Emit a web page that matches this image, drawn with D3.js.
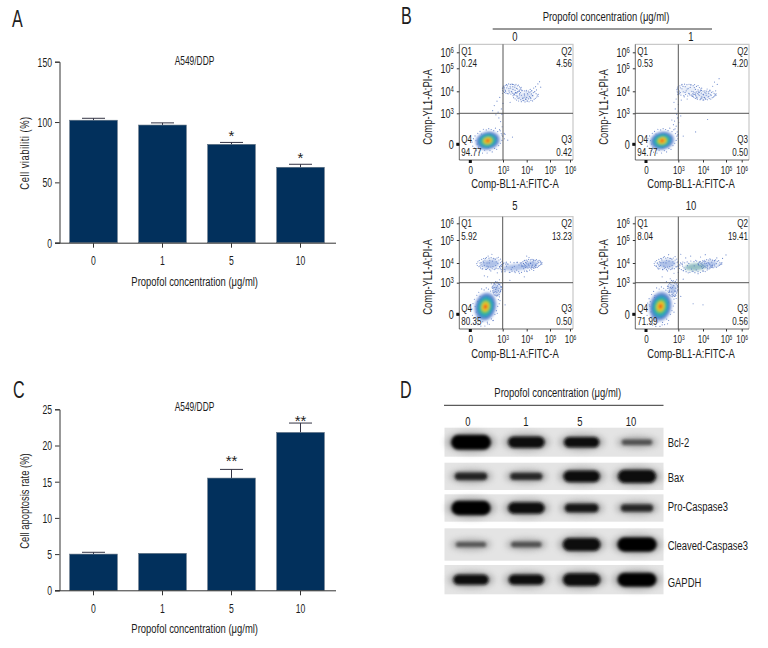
<!DOCTYPE html>
<html><head><meta charset="utf-8">
<script src="https://cdn.jsdelivr.net/npm/d3@7/dist/d3.min.js"></script>
<style>html,body{margin:0;padding:0;background:#fff}svg{display:block}text{font-family:"Liberation Sans",sans-serif;fill:#1c1c1c}</style>
</head><body><svg id="c" width="768" height="648"></svg>
<script>
const doses = ["0","1","5","10"];
const viability = [101.5, 97.5, 81.5, 62.5];
const viabilityErr = [1.6, 1.8, 1.6, 2.5];
const viabilityStars = ["", "", "*", "*"];
const apoptosis = [5.0, 5.1, 15.5, 21.8];
const apoptosisErr = [0.25, 0, 1.2, 1.3];
const apoptosisStars = ["", "", "**", "**"];
const ticksA = [0, 50, 100, 150];
const ticksC = [0, 5, 10, 15, 20, 25];
const q1 = ["0.24","0.53","5.92","8.04"];
const q2 = ["4.56","4.20","13.23","19.41"];
const q3 = ["0.42","0.50","0.50","0.56"];
const q4 = ["94.77","94.77","80.35","71.99"];
const flowDecades = [0,3,4,5,6];
// population centres on the decade axes: x, y, spreadX, spreadY, tilt
const core0 = [1.6,0.35,1.12,0.88,-12];
const core1 = [1.5,0.35,1.12,0.88,-12];
const core5 = [1.4,0.72,0.98,1.35,14];
const core10 = [1.35,0.75,1.02,1.4,12];
const cloud0 = [[3.95,3.78,.42,.2,1],[3.35,4.1,.32,.17,0]];
const cloud1 = [[4.05,3.82,.4,.16,1],[3.4,4.05,.42,.2,0]];
const cloud5 = [[1.85,3.95,1.0,.22,2],[3.55,3.78,.65,.2,2],[4.2,3.95,.35,.16,2],[2.45,2.4,.32,.5,2]];
const cloud10 = [[1.95,3.95,.95,.22,2],[3.7,3.8,.55,.22,3],[4.3,3.95,.4,.15,2],[2.5,2.4,.38,.55,2]];
const events0 = [[3.05,4.18],[3.1,4.02],[3.15,4.28],[3.2,3.9],[3.25,4.12],[3.3,4.22],[3.35,3.98],[3.4,4.3],[3.42,4.08],[3.48,3.84],[3.5,4.18],[3.55,3.95],[3.6,3.78],[3.62,4.1],[3.68,3.7],[3.7,3.9],[3.75,3.62],[3.78,3.82],[3.8,4.02],[3.85,3.7],[3.88,3.58],[3.9,3.88],[3.92,3.74],[3.95,3.64],[3.98,3.98],[4.0,3.72],[4.02,3.56],[4.05,3.84],[4.08,3.66],[4.1,3.94],[4.12,3.76],[4.15,4.08],[4.18,3.68],[4.2,3.88],[4.22,4.02],[4.26,3.8],[4.3,4.14],[4.34,3.98],[4.38,4.2],[4.42,4.06],[4.48,4.32],[4.55,4.42],[4.6,4.18],[2.05,3.12],[2.2,3.35],[2.35,2.85],[2.45,3.55],[2.55,3.05],[2.62,2.55],[2.7,3.72],[2.78,2.2],[2.85,3.2],[2.9,2.9],[2.92,1.7],[2.95,3.9],[3.05,1.05],[3.4,0.7],[3.2,0.4],[2.9,0.9],[2.75,1.3],[3.0,3.45],[3.3,3.5]];
const events1 = [[2.6,3.5],[2.72,3.2],[2.8,3.65],[2.85,2.9],[2.92,2.55],[2.95,3.85],[3.0,3.4],[3.02,2.1],[3.05,3.92],[3.08,4.15],[3.12,3.6],[3.15,4.3],[3.2,3.98],[3.24,3.75],[3.28,4.2],[3.32,4.02],[3.36,3.65],[3.4,4.12],[3.45,3.88],[3.5,4.28],[3.55,4.0],[3.6,3.78],[3.65,4.16],[3.7,3.92],[3.75,3.7],[3.8,4.06],[3.85,3.82],[3.9,3.66],[3.93,3.92],[3.96,3.74],[4.0,3.6],[4.02,3.84],[4.05,3.72],[4.08,3.96],[4.1,3.66],[4.14,3.82],[4.18,4.1],[4.22,3.74],[4.25,3.9],[4.3,4.05],[4.36,3.82],[4.42,4.22],[4.5,4.4],[4.55,4.02],[4.62,4.3],[4.7,4.55],[2.4,2.35],[2.55,1.9],[2.65,2.25],[2.7,1.5],[2.8,1.75],[2.9,1.2],[3.1,2.75],[3.0,3.1],[4.2,2.4],[3.7,1.2],[3.2,0.8],[2.95,0.9]];
const events5 = [[0.9,3.85],[1.0,4.02],[1.1,3.7],[1.2,4.08],[1.3,3.88],[1.4,4.2],[1.5,3.68],[1.55,4.0],[1.65,4.3],[1.7,3.8],[1.8,4.12],[1.9,3.6],[2.0,4.38],[2.1,3.82],[2.2,4.18],[2.3,3.7],[2.4,4.05],[2.5,3.5],[2.6,4.25],[2.7,3.82],[2.8,4.02],[2.9,3.55],[3.0,3.9],[3.1,3.65],[3.2,3.95],[3.3,3.52],[3.4,3.78],[3.5,3.58],[3.6,4.02],[3.7,3.48],[3.8,3.82],[3.9,4.12],[4.0,3.6],[4.1,4.24],[4.2,3.78],[4.3,4.12],[4.4,3.9],[4.5,4.02],[4.6,4.08],[1.6,3.3],[1.95,2.9],[1.3,3.35],[2.2,2.95],[2.7,3.15],[2.95,2.95],[3.3,3.12],[0.8,0.4],[1.0,1.4],[0.7,1.2],[2.1,-0.6],[1.6,-0.9],[2.5,0.1],[2.75,1.3],[2.9,2.6],[2.8,2.2],[2.65,2.85],[3.9,3.3],[3.1,0.9],[4.0,4.3],[4.3,3.62]];
const events10 = [[0.95,3.85],[1.05,4.0],[1.15,3.7],[1.25,4.05],[1.35,3.88],[1.45,4.18],[1.55,3.66],[1.6,4.02],[1.7,4.28],[1.8,3.78],[1.9,4.12],[2.0,3.6],[2.1,4.36],[2.2,3.82],[2.3,4.2],[2.4,3.7],[2.5,4.05],[2.6,3.48],[2.7,4.28],[2.8,3.82],[2.9,4.02],[3.0,3.52],[3.1,4.38],[3.2,3.62],[3.3,4.22],[3.4,3.5],[3.5,4.3],[3.6,3.58],[3.7,4.12],[3.8,3.46],[3.9,4.26],[4.0,3.6],[4.1,4.36],[4.2,3.72],[4.3,4.18],[4.4,3.85],[4.5,4.1],[4.6,4.22],[4.7,3.95],[4.85,4.2],[5.0,4.35],[1.5,3.3],[1.9,3.05],[2.25,3.2],[2.85,3.15],[3.2,3.18],[0.6,0.6],[0.4,1.2],[0.8,1.6],[0.3,0.9],[2.0,-0.9],[1.5,-1.0],[2.6,0.2],[2.8,1.5],[2.9,2.7],[2.7,2.2],[3.0,2.85],[4.0,0.9],[3.6,1.0],[3.1,1.7]];
// speckle scatter read around a population, in units of its spread
const speckle = [[-1.25,.1],[-1.2,-.35],[-1.15,.45],[-1.05,-.6],[-1.02,.72],[-.95,.2],[-.9,-.9],[-.85,-.2],[-.8,.95],[-.7,-1.1],[-.62,1.12],[-.5,.82],[-.42,-1.25],[-.35,1.3],[-.25,-.98],[-.12,1.18],[-.05,-1.32],[.08,1.28],[.18,-1.1],[.28,1.15],[.36,-1.28],[.48,.98],[.55,-.95],[.62,1.22],[.72,-1.08],[.8,.82],[.88,-.7],[.95,1.0],[1.02,-.48],[1.08,.55],[1.14,-.2],[1.2,.25],[1.28,-.05],[1.3,.42],[-.6,.3],[-.3,-.5],[.2,.6],[.5,-.35],[.7,.15],[-.1,.25],[.05,-.7],[-.75,-.55]];
const flowCores = [core0, core1, core5, core10];
const flowClouds = [cloud0, cloud1, cloud5, cloud10];
const flowEvents = [events0, events1, events5, events10];
const proteins = ["Bcl-2","Bax","Pro-Caspase3","Cleaved-Caspase3","GAPDH"];
const bcl2 = [1.0, 0.72, 0.62, 0.2];
const bax = [0.38, 0.36, 0.72, 0.85];
const proCasp = [0.95, 0.72, 0.5, 0.36];
const cleavedCasp = [0.18, 0.2, 0.82, 0.95];
const gapdh = [0.62, 0.62, 0.8, 0.92];
const blotRows = [bcl2, bax, proCasp, cleavedCasp, gapdh];
const yLabelA = "Cell viabiliti (%)", yLabelC = "Cell apoptosis rate  (%)";
const xTitle = "Propofol concentration (μg/ml)", cell = "A549/DDP";

const svg = d3.select("#c");
const defs = svg.append("defs");
[["b1",1.5],["b15",1.3],["b3",3],["b05",.5],["b07",1]].forEach(([id,s])=>defs.append("filter").attr("id",id).attr("x","-40%").attr("y","-70%").attr("width","180%").attr("height","240%").append("feGaussianBlur").attr("stdDeviation",s));
const T=(x,y,s,size,anchor)=>svg.append("text").attr("x",x).attr("y",y).attr("font-size",size).attr("text-anchor",anchor||"middle").text(s);

function barPanel(vals,errs,stars,ticks,yMax,y0,y1,yLabel,labelY,o){
  const g=svg.append("g");
  const x=d3.scaleBand().domain(doses).range([59,335]).paddingInner(.31).paddingOuter(.155);
  const y=d3.scaleLinear().domain([0,yMax]).range([y0,y1]);
  const col="#02305c";
  g.selectAll(".e").data(doses).join("g").each(function(d,i){
    if(!errs[i])return;
    const c=x(d)+x.bandwidth()/2, s=d3.select(this).attr("stroke","#334").attr("stroke-width",1);
    s.append("line").attr("x1",c).attr("x2",c).attr("y1",y(vals[i])).attr("y2",y(vals[i]+errs[i]));
    s.append("line").attr("x1",c-11.5).attr("x2",c+11.5).attr("y1",y(vals[i]+errs[i])).attr("y2",y(vals[i]+errs[i]));
  });
  g.selectAll("rect").data(doses).join("rect").attr("x",d=>x(d)).attr("width",x.bandwidth())
   .attr("y",(d,i)=>y(vals[i])).attr("height",(d,i)=>y0-y(vals[i])).attr("fill",col).attr("stroke","#5d6f80").attr("stroke-width",.6);
  const ax=g.append("g").attr("transform",`translate(59.5,0)`).call(d3.axisLeft(y).tickValues(ticks).tickSize(4.5).tickPadding(3));
  ax.select(".domain").attr("stroke","#333");
  ax.selectAll("line").attr("stroke","#333");
  ax.selectAll("text").attr("font-size",13.5).attr("class","digits");
  const bx=g.append("g").attr("transform",`translate(0,${y0+.5})`).call(d3.axisBottom(x).tickSize(4.5).tickPadding(8));
  bx.select(".domain").attr("stroke","#333").attr("d","M55,0H336");
  bx.selectAll("line").attr("stroke","#333");
  bx.selectAll("text").attr("font-size",13.5).attr("class","digits");
  doses.forEach((d,i)=>{ if(stars[i]) T(x(d)+x.bandwidth()/2,y(vals[i]+errs[i])-o.star[i],stars[i],15).attr("class","star"); });
  T(194.5,o.titleY,cell,12);
  T(194.7,o.xTitleY,xTitle,13.5).attr("class","title");
  svg.append("text").attr("transform",`translate(29,${labelY}) rotate(-90)`).attr("text-anchor","middle").attr("font-size",13.5).attr("letter-spacing",o.ySpacing).text(yLabel);
}
barPanel(viability,viabilityErr,viabilityStars,ticksA,150,242.7,61.7,yLabelA,153,{star:[0,0,1,1],titleY:65,xTitleY:286,ySpacing:.7});
barPanel(apoptosis,apoptosisErr,apoptosisStars,ticksC,25,590.3,409.3,yLabelC,501,{star:[0,0,3,-3],titleY:411.5,xTitleY:633,ySpacing:0});

[["A",12,27],["B",401,24],["C",13,398],["D",400,398]].forEach(([s,x,y])=>T(x,y,s,23,"start"));

// Flow panels
const levels=[[1.05,"#6f90d6",.55],[.9,"#4472c6",.8],[.74,"#2f9fc0",1],[.56,"#3bb98a",1],[.42,"#9ac93c",1],[.3,"#f0c52a",1],[.18,"#ef7a1e",1],[.08,"#dd3a1c",1]];
const cloudCols=["#c8d5f0","#a6bbe6","#86a3dd","#5f9fa6"];
const geom=[
 {l:459.3,r:573,t:44.3,b:160,xr:[470.3,503,526.7,550,570],yr:[144.3,113.3,91.3,68.3,52.3]},
 {l:635.3,r:749,t:44.3,b:160,xr:[646,678.3,703,726,741.7],yr:[144.3,113.3,91.3,68.3,52.3]},
 {l:459.3,r:573,t:216.7,b:329,xr:[470.3,502.7,526.7,550,570],yr:[314.3,282.7,263,240,223.3]},
 {l:635.3,r:749,t:216.7,b:329,xr:[646,678.3,703,726,741.7],yr:[314.3,282.7,263,240,223.3]}];
doses.forEach((dose,i)=>{
  const G=geom[i], g=svg.append("g");
  const x=d3.scaleLinear().domain(flowDecades).range(G.xr);
  const y=d3.scaleLinear().domain(flowDecades).range(G.yr);
  const cid="cp"+i;
  defs.append("clipPath").attr("id",cid).append("rect").attr("x",G.l).attr("y",G.t).attr("width",G.r-G.l).attr("height",G.b-G.t);
  g.append("path").attr("d",`M${G.l},${G.t}H${G.r}V${G.b}`).attr("fill","none").attr("stroke","#c9c9c9").attr("stroke-width",1.2);
  const p=g.append("g").attr("clip-path",`url(#${cid})`);
  const ell=(par,c,k,fill,op,f)=>par.append("ellipse")
     .attr("transform",`translate(${x(c[0])},${y(c[1])}) rotate(${c[4]||0})`)
     .attr("rx",Math.abs(x(c[0]+c[2]*k)-x(c[0]))).attr("ry",Math.abs(y(c[1]+c[3]*k)-y(c[1])))
     .attr("fill",fill).attr("opacity",op).attr("filter",f);
  flowClouds[i].forEach(c=>ell(p,[c[0],c[1],c[2],c[3],-4],.85,cloudCols[c[4]],i<2?.4:.65,"url(#b15)"));
  const specks=[...flowEvents[i]];
  flowClouds[i].forEach(c=>speckle.forEach(s=>specks.push([c[0]+s[0]*c[2],c[1]+s[1]*c[3]])));
  const core=flowCores[i];
  speckle.forEach(s=>specks.push([core[0]+s[0]*core[2]*1.02,core[1]+(s[1]+s[0]*.2)*core[3]*1.02]));
  p.selectAll("circle").data(specks).join("circle").attr("cx",d=>x(d[0])).attr("cy",d=>y(d[1])).attr("r",.6).attr("fill","#4b6ec0").attr("opacity",.75);
  const cg=p.append("g").attr("filter","url(#b07)");
  levels.forEach(l=>ell(cg,core,l[0],l[1],l[2],null));
  g.append("line").attr("x1",G.l).attr("x2",G.r).attr("y1",y(3)).attr("y2",y(3)).attr("stroke","#555").attr("stroke-width",1);
  g.append("line").attr("x1",x(3)).attr("x2",x(3)).attr("y1",G.t).attr("y2",G.b).attr("stroke","#555").attr("stroke-width",1);
  const fmt=d=>d===0?"0":"10";
  const ay=g.append("g").attr("transform",`translate(${G.l},0)`).call(d3.axisLeft(y).tickValues(flowDecades).tickSize(2.5).tickPadding(3).tickFormat(fmt));
  const ax=g.append("g").attr("transform",`translate(0,${G.b})`).call(d3.axisBottom(x).tickValues(flowDecades).tickSize(2.5).tickPadding(6).tickFormat(fmt));
  ay.select(".domain").attr("stroke","#444").attr("stroke-width",.8).attr("d",`M0,${G.t}V${G.b}`);
  ax.select(".domain").attr("stroke","#444").attr("stroke-width",.8).attr("d",`M${G.l},0H${G.r}`);
  [ay,ax].forEach((a,k)=>{
    a.selectAll("line").attr("stroke","#333");
    a.selectAll("text").attr("font-size",k?11.5:13).each(function(d){
      if(d===0)return;
      d3.select(this).append("tspan").attr("font-size",k?7:8.5).attr("dy",k?-3:-4).text(d);
    });
  });
  ax.selectAll(".tick text").attr("y",6);
  g.append("rect").attr("x",G.l-3).attr("y",y(0)-1.5).attr("width",3).attr("height",3).attr("fill","#111");
  g.append("rect").attr("x",x(0)-1.5).attr("y",G.b).attr("width",3).attr("height",3).attr("fill","#111");
  const top=G.t, bot=G.b, lft=G.l+2, rgt=G.r-1;
  const qs=11.5;
  T(lft,top+10.5,"Q1",qs,"start");T(lft,top+23,q1[i],qs,"start");
  T(rgt,top+10.5,"Q2",qs,"end");T(rgt,top+23,q2[i],qs,"end");
  T(lft,bot-16.5,"Q4",qs,"start");T(lft,bot-4,q4[i],qs,"start");
  T(rgt,bot-16.5,"Q3",qs,"end");T(rgt,bot-4,q3[i],qs,"end");
  const cx=i%2?691:515;
  T(cx,i<2?41.5:210.5,dose,13.5);
  T(cx,i<2?188:358,"Comp-BL1-A:FITC-A",13.5);
  svg.append("text").attr("transform",`translate(${i%2?608:432},${i<2?107:277}) rotate(-90)`).attr("text-anchor","middle").attr("font-size",13.5).text("Comp-YL1-A:PI-A");
});
T(606,21.5,xTitle,13.5).attr("class","title");
svg.append("line").attr("x1",492.7).attr("x2",712).attr("y1",29).attr("y2",29).attr("stroke","#333");

// Western blot
T(557.7,397.5,xTitle,13.5).attr("class","title");
svg.append("line").attr("x1",444).attr("x2",663.5).attr("y1",405.3).attr("y2",405.3).attr("stroke","#333");
const lanes=d3.scalePoint().domain(doses).range([471,637]);
[468,526,580,631].forEach((lx,i)=>T(lx,425.7,doses[i],13.5));
const stripY=[[427.7,456.7],[462.7,490],[494.3,521.7],[528.3,560.7],[565,594.3]];
const labY=[447,482,510.7,549.7,587.3];
const bandW=d3.scaleLinear().domain([0,1]).range([28,40]);
const bandH=d3.scaleLinear().domain([0,1]).range([3,15]);
const bandC=d3.scaleLinear().domain([.15,.35,.6,1]).range(["#5c5c5c","#262626","#0c0c0c","#050505"]).clamp(true);
proteins.forEach((p,r)=>{
  const g=svg.append("g"), [a,b]=stripY[r];
  g.append("rect").attr("x",444.5).attr("width",219).attr("y",a).attr("height",b-a).attr("fill","#e4e4e4").attr("filter","url(#b05)");
  const row=blotRows[r], mid=(a+b)/2;
  g.selectAll("ellipse").data(row).join("ellipse").attr("cx",(d,i)=>lanes(doses[i])).attr("cy",mid)
   .attr("rx",d=>bandW(d)/2+5).attr("ry",d=>bandH(d)/2+3).attr("fill","#8c8c8c").attr("opacity",.7).attr("filter","url(#b3)");
  g.selectAll("rect.band").data(row).join("rect").attr("class","band")
   .attr("x",(d,i)=>lanes(doses[i])-bandW(d)/2).attr("width",d=>bandW(d))
   .attr("y",d=>mid-bandH(d)/2).attr("height",d=>bandH(d)).attr("rx",d=>bandH(d)/2).attr("fill",d=>bandC(d)).attr("filter","url(#b1)");
  T(667.7,labY[r],p,13.5,"start");
});

// condense every label about its anchor (the reference uses a condensed face)
svg.selectAll("text").each(function(){
  const s=d3.select(this), c=s.attr("class");
  if(c==="star")return;
  const k=c==="digits"?.64:.7, X=+s.attr("x")||0, tr=s.attr("transform")||"";
  s.attr("transform",`${tr} translate(${X},0) scale(${k},1) translate(${-X},0)`);
});
</script></body></html>
